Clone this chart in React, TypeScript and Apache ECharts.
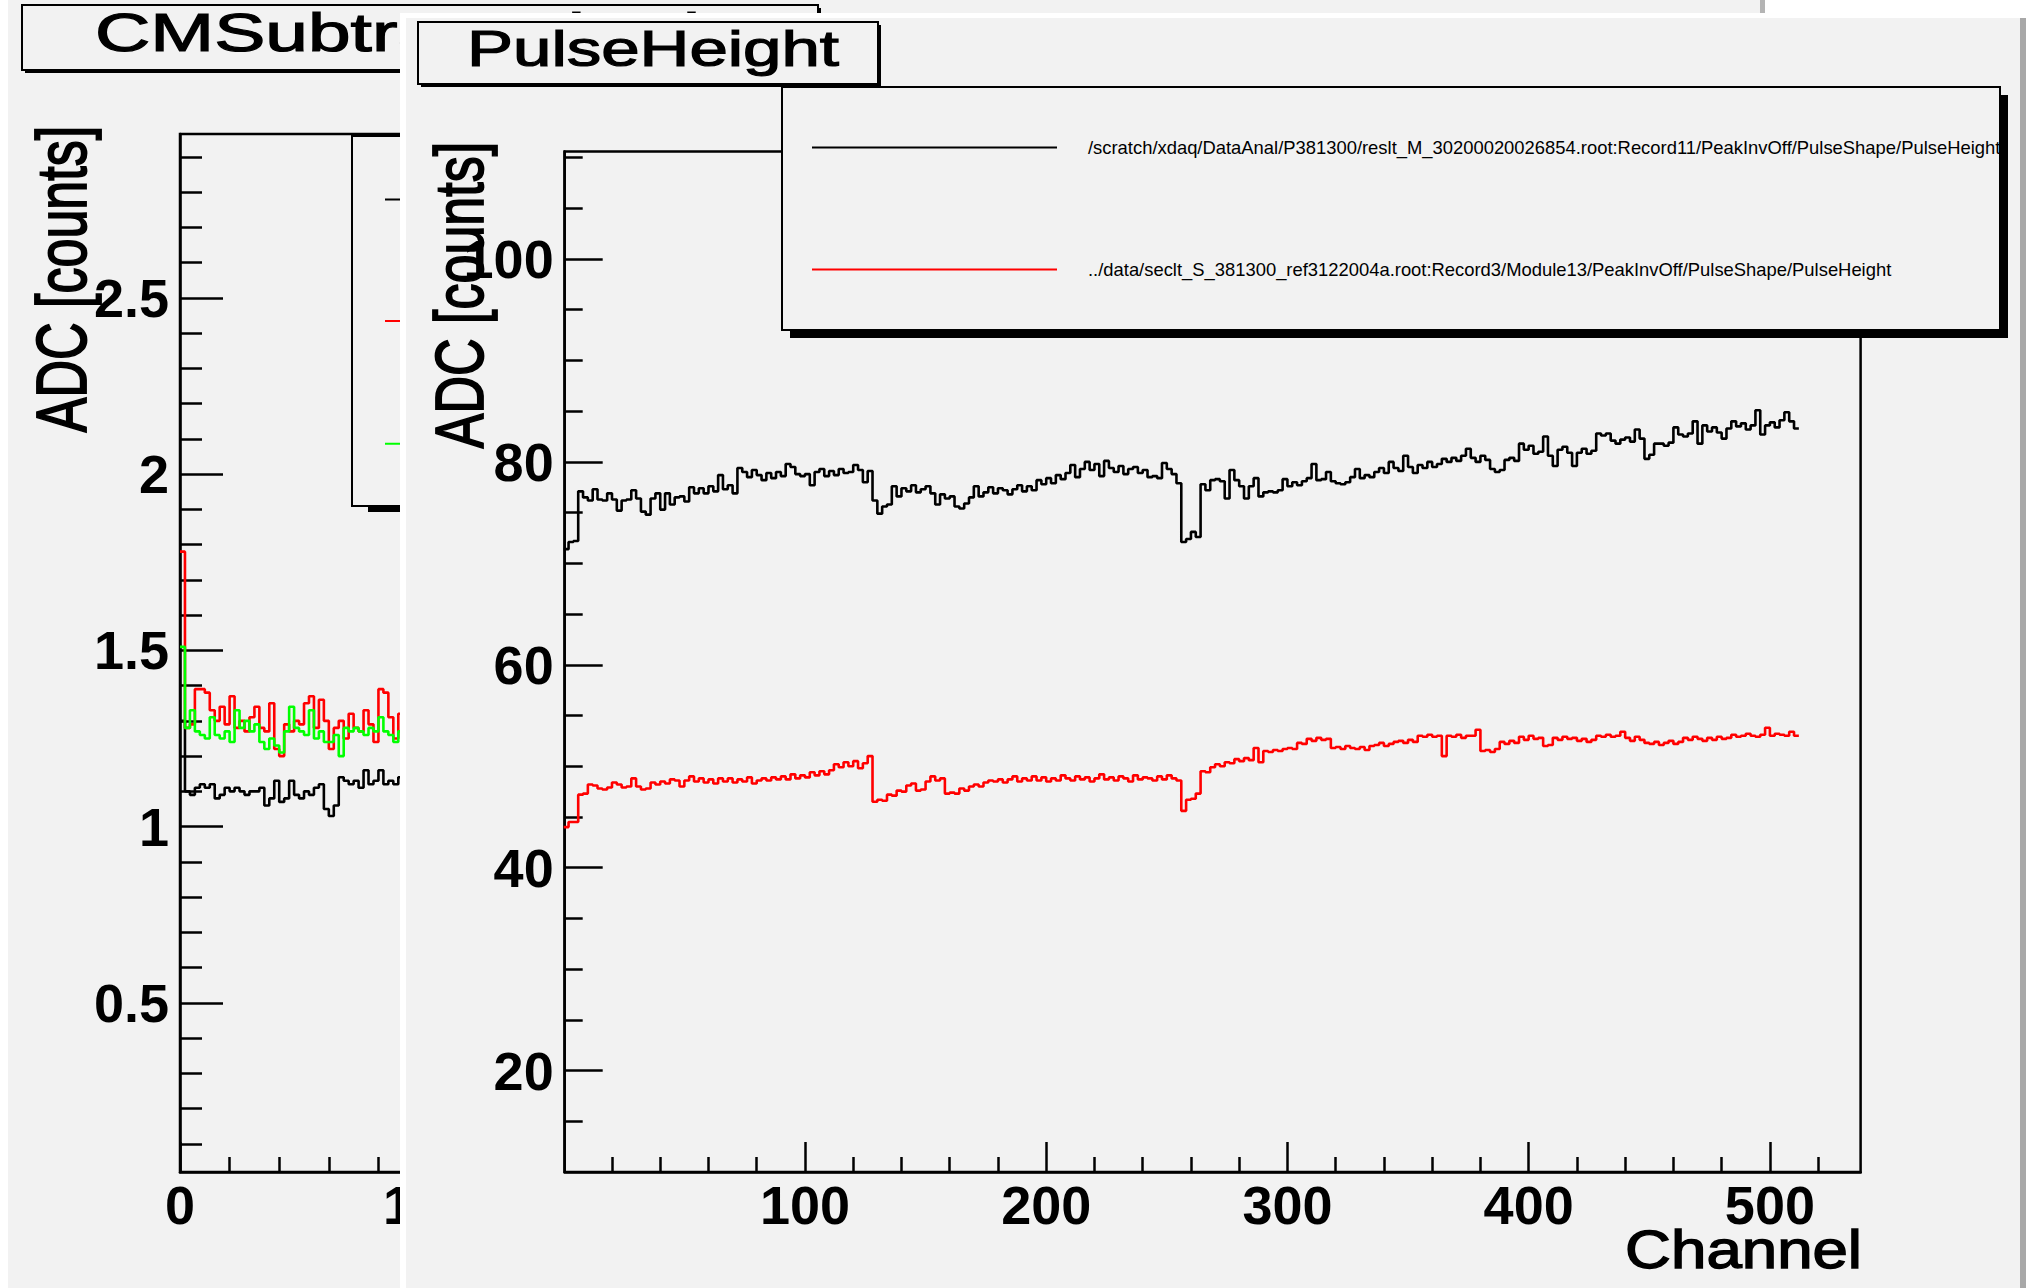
import React, { useEffect, useRef } from "react";
import * as echarts from "echarts";

const FONT = "'Liberation Sans', Arial, Helvetica, sans-serif";

// ---------- texts ----------
const backTitle = "CMSubtractedNoise";
const mainTitle = "PulseHeight";
const yTitle = "ADC [counts]";
const xTitle = "Channel";
const legendBlack =
  "/scratch/xdaq/DataAnal/P381300/reslt_M_30200020026854.root:Record11/PeakInvOff/PulseShape/PulseHeight";
const legendRed =
  "../data/seclt_S_381300_ref3122004a.root:Record3/Module13/PeakInvOff/PulseShape/PulseHeight";

// ---------- main (front) panel: PulseHeight, 2-channel bins ----------
const mainBinWidth = 2;
const mainBlack = [
  71.4, 72.1, 72.2, 77.1, 76.5, 76.2, 77.3, 76.3, 76.2, 76.9, 76.3, 75.2, 76.2, 76.3, 77.2, 76.4,
  75.1, 74.8, 76.4, 76.9, 75.3, 76.9, 75.8, 76.5, 76.6, 76.1, 77.5, 76.9, 77.4, 76.9, 77.6, 77.1,
  78.7, 77.3, 77.7, 76.9, 79.4, 79.0, 78.5, 79.2, 78.7, 78.2, 78.9, 78.4, 79.0, 78.6, 79.8, 79.5,
  78.8, 78.6, 78.8, 77.7, 79.0, 79.3, 78.6, 79.1, 78.7, 79.3, 78.9, 79.0, 79.7, 79.2, 78.0, 79.1,
  76.2, 74.9, 75.6, 75.8, 77.6, 76.6, 77.4, 77.1, 77.7, 77.0, 77.3, 77.6, 76.9, 75.8, 76.8, 76.4,
  76.6, 75.6, 75.4, 75.9, 76.5, 77.6, 76.6, 77.0, 77.5, 76.9, 77.4, 77.2, 76.8, 77.3, 77.7, 77.1,
  77.6, 77.2, 78.2, 77.8, 78.4, 77.9, 78.7, 78.3, 78.9, 79.7, 78.5, 79.3, 80.0, 79.2, 79.8, 78.6,
  80.1, 79.4, 79.0, 79.6, 78.8, 79.3, 79.5, 78.9, 79.2, 78.5, 78.6, 78.4, 79.9, 79.3, 78.8, 77.9,
  72.1, 72.4, 73.1, 72.6, 77.8, 77.2, 78.2, 78.3, 78.1, 76.4, 79.2, 78.2, 77.6, 76.4, 77.6, 78.4,
  76.6, 77.0, 77.1, 77.0, 77.2, 78.3, 77.6, 78.0, 77.7, 78.1, 78.4, 79.8, 78.2, 78.3, 79.0, 78.1,
  77.9, 77.8, 78.0, 78.5, 79.3, 78.4, 78.7, 78.5, 79.0, 79.4, 78.9, 80.0, 79.4, 79.1, 80.6, 79.5,
  78.9, 79.7, 79.4, 80.0, 79.5, 79.8, 80.3, 80.0, 80.4, 80.1, 80.6, 81.3, 80.4, 80.0, 80.6, 80.2,
  79.3, 79.0, 79.2, 80.2, 80.4, 80.1, 81.8, 81.2, 81.6, 80.8, 81.0, 82.5, 80.6, 79.6, 81.2, 81.5,
  80.9, 79.6, 80.9, 81.3, 80.8, 81.1, 82.8, 82.6, 82.8, 82.1, 81.8, 82.2, 82.4, 82.0, 83.2, 82.3,
  80.3, 80.7, 81.8, 81.8, 81.6, 81.9, 83.4, 82.7, 82.5, 82.8, 84.0, 81.8, 83.6, 83.0, 83.4, 82.9,
  82.3, 83.3, 84.0, 83.5, 83.8, 83.2, 83.6, 85.1, 82.7, 83.6, 83.9, 83.4, 84.1, 84.9, 84.0, 83.3,
];
const mainRed = [
  44.0, 44.5, 44.5, 47.2, 47.3, 48.2, 48.1, 47.8, 47.7, 47.9, 48.4, 48.2, 47.9, 48.0, 48.8, 48.0,
  47.7, 47.8, 48.4, 48.2, 48.5, 48.3, 48.7, 48.6, 48.0, 48.6, 49.0, 48.5, 48.8, 48.4, 48.7, 48.3,
  48.8, 48.5, 48.8, 48.4, 48.7, 48.5, 48.9, 48.3, 48.6, 48.8, 48.6, 48.9, 48.7, 49.0, 48.7, 49.2,
  48.8, 49.1, 48.9, 49.4, 49.1, 49.5, 49.2, 49.6, 50.2, 49.9, 50.4, 50.0, 50.5, 49.8, 50.3, 51.0,
  46.5, 46.7, 46.6, 47.2, 47.1, 47.6, 47.5, 48.1, 48.3, 47.6, 47.7, 48.5, 49.0, 48.6, 48.8, 47.3,
  47.4, 47.3, 47.8, 47.6, 48.0, 48.2, 48.0, 48.4, 48.6, 48.5, 48.7, 48.4, 48.7, 49.0, 48.5, 48.8,
  48.6, 49.0, 48.6, 48.9, 48.5, 48.8, 48.6, 49.1, 48.8, 48.6, 49.0, 48.7, 48.9, 48.5, 48.8, 49.2,
  48.7, 48.9, 48.6, 49.0, 48.8, 48.5, 49.1, 48.7, 48.9, 48.8, 48.6, 49.0, 48.7, 49.1, 48.8, 48.6,
  45.6, 46.7, 46.8, 47.3, 49.5, 49.4, 49.9, 50.2, 50.0, 50.4, 50.3, 50.7, 50.5, 50.8, 50.6, 51.8,
  50.4, 51.5, 51.4, 51.6, 51.5, 51.7, 51.8, 51.7, 52.3, 52.2, 52.7, 52.5, 52.8, 52.6, 52.7, 51.8,
  51.9, 51.7, 52.0, 51.8, 51.7, 51.9, 51.6, 52.0, 52.1, 52.3, 52.0, 52.2, 52.4, 52.5, 52.3, 52.6,
  52.4, 53.0, 52.9, 53.1, 52.9, 53.0, 51.0, 53.0, 52.9, 53.1, 52.8, 53.0, 53.0, 53.6, 51.5, 51.6,
  51.4, 51.7, 52.4, 52.2, 52.5, 52.3, 52.9, 52.6, 53.0, 52.7, 52.8, 52.0, 52.1, 52.8, 52.6, 52.9,
  52.7, 52.8, 52.5, 52.7, 52.4, 52.6, 53.0, 52.9, 53.1, 52.9, 53.0, 53.4, 52.8, 52.5, 52.9, 52.6,
  52.3, 52.2, 52.4, 52.1, 52.3, 52.5, 52.2, 52.4, 52.8, 52.6, 52.9, 52.7, 52.5, 52.8, 52.6, 52.9,
  52.7, 52.8, 53.1, 52.9, 53.0, 53.2, 53.0, 52.9, 53.1, 53.8, 53.0, 53.2, 53.1, 53.0, 53.4, 53.0,
];
const mainXRange = [0.4, 537.6];
const mainYRange = [10, 110.6];
const mainXMajor = [100, 200, 300, 400, 500];
const mainXMinor = [20, 40, 60, 80, 120, 140, 160, 180, 220, 240, 260, 280, 320, 340, 360, 380, 420, 440, 460, 480, 520];
const mainYMajor = [20, 40, 60, 80, 100];
const mainYMinor = [15, 25, 30, 35, 45, 50, 55, 65, 70, 75, 85, 90, 95, 105, 110];

// ---------- back panel: CMSubtr..., 2-channel bins (visible part) ----------
const leftBinWidth = 2;
const leftBlack = [
  1.30, 1.10, 1.09, 1.11, 1.12, 1.11, 1.12, 1.08, 1.09, 1.11, 1.10, 1.11, 1.10, 1.09, 1.10, 1.10,
  1.11, 1.06, 1.08, 1.13, 1.07, 1.08, 1.13, 1.09, 1.08, 1.10, 1.09, 1.11, 1.12, 1.05, 1.03, 1.06,
  1.14, 1.13, 1.12, 1.13, 1.11, 1.16, 1.12, 1.13, 1.16, 1.12, 1.13, 1.12, 1.14, 1.12, 1.13, 1.12,
];
const leftRed = [
  1.78, 1.28, 1.29, 1.39, 1.39, 1.38, 1.33, 1.30, 1.34, 1.29, 1.37, 1.28, 1.30, 1.27, 1.31, 1.34,
  1.28, 1.27, 1.35, 1.22, 1.20, 1.29, 1.27, 1.30, 1.29, 1.35, 1.37, 1.28, 1.36, 1.30, 1.22, 1.28,
  1.30, 1.25, 1.32, 1.28, 1.27, 1.33, 1.29, 1.24, 1.39, 1.38, 1.31, 1.25, 1.32, 1.29, 1.30, 1.27,
];
const leftGreen = [
  1.51, 1.28, 1.33, 1.27, 1.26, 1.25, 1.31, 1.26, 1.25, 1.27, 1.24, 1.33, 1.28, 1.30, 1.27, 1.29,
  1.24, 1.22, 1.25, 1.23, 1.21, 1.27, 1.34, 1.28, 1.27, 1.26, 1.33, 1.25, 1.27, 1.24, 1.24, 1.26,
  1.20, 1.28, 1.27, 1.28, 1.27, 1.26, 1.28, 1.27, 1.31, 1.27, 1.26, 1.24, 1.27, 1.26, 1.28, 1.27,
];
const leftXRange = [0, 512];
const leftYRange = [0.02, 2.965];
const leftXMajor = [0, 100, 200, 300, 400, 500];
const leftXMinor = [20, 40, 60, 80, 120, 140, 160, 180, 220, 240, 260, 280, 320, 340, 360, 380, 420, 440, 460, 480];
const leftYMajor = [0.5, 1, 1.5, 2, 2.5];
const leftYMinor = [0.1, 0.2, 0.3, 0.4, 0.6, 0.7, 0.8, 0.9, 1.1, 1.2, 1.3, 1.4, 1.6, 1.7, 1.8, 1.9, 2.1, 2.2, 2.3, 2.4, 2.6, 2.7, 2.8, 2.9];

const BG = "#f2f2f2";

function stepData(vals: number[], bw: number) {
  const pts: number[][] = vals.map((v, i) => [i * bw, v]);
  pts.push([vals.length * bw, vals[vals.length - 1]]);
  return pts;
}

function axisPair(
  gridIndex: number,
  dim: "x" | "y",
  range: number[],
  major: number[],
  minor: number[],
  majorLen: number,
  minorLen: number,
  z: number,
  margin: number
) {
  const common: any = {
    type: "value",
    gridIndex,
    min: range[0],
    max: range[1],
    z,
    silent: true,
    position: dim === "x" ? "bottom" : "left",
    splitLine: { show: false },
    minorTick: { show: false },
  };
  return [
    {
      ...common,
      axisLine: { show: true, onZero: false, lineStyle: { color: "#000", width: 2.5 } },
      axisTick: {
        show: true,
        inside: true,
        length: majorLen,
        customValues: major,
        lineStyle: { color: "#000", width: 2.5 },
      },
      axisLabel: {
        show: true,
        customValues: major,
        margin,
        color: "#000",
        fontSize: 54,
        fontWeight: "bold",
        fontFamily: FONT,
      },
    },
    {
      ...common,
      axisLine: { show: false, onZero: false },
      axisTick: {
        show: true,
        inside: true,
        length: minorLen,
        customValues: minor,
        lineStyle: { color: "#000", width: 2.5 },
      },
      axisLabel: { show: false },
    },
  ];
}

function lineSeries(name: string, vals: number[], bw: number, color: string, xi: number, yi: number, z: number) {
  return {
    type: "line",
    name,
    data: stepData(vals, bw),
    step: "end",
    xAxisIndex: xi,
    yAxisIndex: yi,
    showSymbol: false,
    symbol: "none",
    color,
    itemStyle: { color },
    lineStyle: { color, width: 2.6 },
    z,
    silent: true,
    animation: false,
  };
}

function textEl(
  text: string,
  x: number,
  y: number,
  size: number,
  weight: string,
  align: string,
  extra: any,
  z: number,
  strokeW: number
) {
  const style: any = {
    text,
    fontSize: size,
    fontWeight: weight,
    fontFamily: FONT,
    fill: "#000",
    align,
    textAlign: align,
    verticalAlign: "middle",
    textVerticalAlign: "middle",
  };
  if (strokeW > 0) {
    style.stroke = "#000";
    style.lineWidth = strokeW;
  }
  return { type: "text", x, y, z, z2: 10, silent: true, ...extra, style };
}

function boxWithShadow(x: number, y: number, w: number, h: number, dx: number, dy: number, z: number) {
  return [
    { type: "rect", z, silent: true, shape: { x: x + dx, y: y + dy, width: w, height: h }, style: { fill: "#000" } },
    {
      type: "rect",
      z,
      z2: 1,
      silent: true,
      shape: { x, y, width: w, height: h },
      style: { fill: BG, stroke: "#000", lineWidth: 2 },
    },
  ];
}

export default function App() {
  const ref = useRef<HTMLDivElement>(null);

  useEffect(() => {
    document.body.style.margin = "0";
    document.body.style.overflow = "hidden";
    const chart = echarts.init(ref.current!, null, { renderer: "svg", width: 2026, height: 1288 });

    const [lx, lxm] = axisPair(0, "x", leftXRange, leftXMajor, leftXMinor, 30, 15, 1, 6);
    const [ly, lym] = axisPair(0, "y", leftYRange, leftYMajor, leftYMinor, 43, 22, 1, 11);
    const [mx, mxm] = axisPair(1, "x", mainXRange, mainXMajor, mainXMinor, 30, 15, 6, 6);
    const [my, mym] = axisPair(1, "y", mainYRange, mainYMajor, mainYMinor, 38, 18, 6, 11);

    const legendCommon = {
      orient: "vertical",
      left: 812,
      padding: 0,
      itemWidth: 245,
      itemHeight: 2,
      icon: "rect",
      itemGap: 0,
      selectedMode: false,
      z: 9,
      textStyle: { fontSize: 18.4, fontFamily: FONT, color: "#000", padding: [0, 0, 0, 26] },
    };

    const graphics: any[] = [
      // back panel
      { type: "rect", z: 0, silent: true, shape: { x: 8, y: 0, width: 1757, height: 1288 }, style: { fill: BG } },
      { type: "rect", z: 0, z2: 1, silent: true, shape: { x: 1760, y: 0, width: 5, height: 1288 }, style: { fill: "#b4b4b4" } },
      ...boxWithShadow(22, 5, 796, 65, 3, 3, 3),
      textEl(backTitle, 95, 32, 54, "normal", "left", { scaleX: 1.42 }, 3, 1.2),
      ...boxWithShadow(352, 136, 1000, 370, 16, 6, 3),
      { type: "line", z: 3, z2: 2, silent: true, shape: { x1: 385, y1: 199.5, x2: 620, y2: 199.5 }, style: { stroke: "#000", lineWidth: 2 } },
      { type: "line", z: 3, z2: 2, silent: true, shape: { x1: 385, y1: 321, x2: 620, y2: 321 }, style: { stroke: "#ff0000", lineWidth: 2 } },
      { type: "line", z: 3, z2: 2, silent: true, shape: { x1: 385, y1: 443.7, x2: 620, y2: 443.7 }, style: { stroke: "#00ff00", lineWidth: 2 } },
      textEl(yTitle, 62, 279, 52, "normal", "center", { rotation: Math.PI / 2, scaleY: 1.35 }, 3, 1.4),
      // front panel
      { type: "rect", z: 5, silent: true, shape: { x: 400, y: 13, width: 1626, height: 1275 }, style: { fill: "#ffffff" } },
      { type: "rect", z: 5, z2: 1, silent: true, shape: { x: 406, y: 18, width: 1614, height: 1270 }, style: { fill: BG } },
      { type: "rect", z: 5, z2: 2, silent: true, shape: { x: 2020, y: 18, width: 6, height: 1270 }, style: { fill: "#a8a8a8" } },
      ...boxWithShadow(418, 22, 460, 62, 3, 3, 9),
      textEl(mainTitle, 653, 49, 50, "normal", "center", { scaleX: 1.38 }, 9, 1.2),
      ...boxWithShadow(782, 87, 1218, 243, 8, 8, 8),
      textEl(yTitle, 459, 295, 52, "normal", "center", { rotation: Math.PI / 2, scaleY: 1.3 }, 9, 1.4),
      textEl(xTitle, 1862, 1249, 53, "normal", "right", { scaleX: 1.2 }, 9, 1.4),
    ];

    const option: any = {
      animation: false,
      backgroundColor: "#ffffff",
      grid: [
        { left: 180, top: 134, width: 1270, height: 1038, show: true, borderColor: "#000", borderWidth: 2.5, backgroundColor: "transparent", z: 1, containLabel: false, outerBoundsMode: "none" },
        { left: 564.7, top: 151.5, width: 1295.9, height: 1020.5, show: true, borderColor: "#000", borderWidth: 2.5, backgroundColor: "transparent", z: 6, containLabel: false, outerBoundsMode: "none" },
      ],
      xAxis: [lx, lxm, mx, mxm],
      yAxis: [ly, lym, my, mym],
      legend: [
        { ...legendCommon, top: 138.5, data: [legendBlack] },
        { ...legendCommon, top: 260.5, data: [legendRed] },
      ],
      graphic: { elements: graphics },
      series: [
        lineSeries("CM black", leftBlack, leftBinWidth, "#000000", 0, 0, 2),
        lineSeries("CM red", leftRed, leftBinWidth, "#ff0000", 0, 0, 2),
        lineSeries("CM green", leftGreen, leftBinWidth, "#00ff00", 0, 0, 2),
        lineSeries(legendBlack, mainBlack, mainBinWidth, "#000000", 2, 2, 7),
        lineSeries(legendRed, mainRed, mainBinWidth, "#ff0000", 2, 2, 7),
      ],
    };
    chart.setOption(option);
    return () => chart.dispose();
  }, []);

  return (
    <div
      ref={ref}
      style={{ position: "absolute", left: 0, top: 0, width: 2026, height: 1288, background: "#fff" }}
    />
  );
}
